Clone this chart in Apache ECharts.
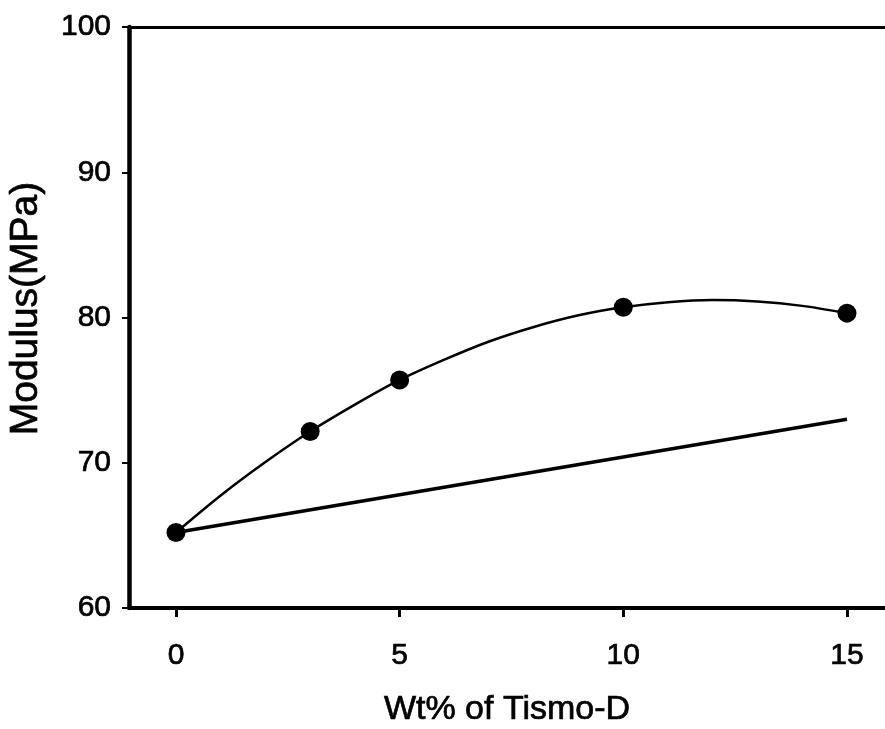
<!DOCTYPE html>
<html>
<head>
<meta charset="utf-8">
<script src="https://cdn.jsdelivr.net/npm/echarts@6/dist/echarts.min.js"></script>
<style>
html,body{margin:0;padding:0;background:#fff;}
#chart{width:885px;height:729px;}
</style>
</head>
<body>
<div id="chart"></div>
<script>
const wtPercent = [0, 3, 5, 10, 15];
const modulus = [65.2, 72.15, 75.7, 80.7, 80.3];
// Fitted curve as drawn in the reference
const fitX = [0, 1, 2, 3, 4, 5, 6, 7, 8, 9, 10, 11, 12, 13, 14, 15];
const fitY = [65.2, 67.75, 70.05, 72.15, 74.0, 75.7, 77.1, 78.35, 79.35, 80.15, 80.7, 81.05, 81.2, 81.1, 80.8, 80.3];
// Straight reference line
const linearX = [0, 15];
const linearY = [65.2, 73.0];
const xTicks = [0, 5, 10, 15];
const yTicks = [60, 70, 80, 90, 100];

const FONT = '"Liberation Sans", Arial, sans-serif';
const chart = echarts.init(document.getElementById('chart'), null, {renderer: 'canvas'});

const measured = wtPercent.map((x, i) => [x, modulus[i]]);
const fit = fitX.map((x, i) => [x, fitY[i]]);
const linear = linearX.map((x, i) => [x, linearY[i]]);
const heavy = {textBorderColor: '#000', textBorderWidth: 0.7};

chart.setOption({
  backgroundColor: '#ffffff',
  animation: false,
  grid: {left: 129, right: 0, top: 27, bottom: 121, containLabel: false, outerBoundsMode: 'none'},
  xAxis: [{
    type: 'value',
    min: -1.05,
    max: 15.85,
    position: 'bottom',
    name: 'Wt% of Tismo-D',
    nameLocation: 'middle',
    nameGap: 85,
    nameTextStyle: Object.assign({color: '#000', fontSize: 34, fontFamily: FONT}, heavy),
    axisLine: {show: true, onZero: false, lineStyle: {color: '#000', width: 4}},
    axisTick: {show: true, inside: false, length: 9, customValues: xTicks, lineStyle: {color: '#000', width: 3}},
    axisLabel: Object.assign({show: true, customValues: xTicks, margin: 33, color: '#000', fontSize: 30, fontFamily: FONT}, heavy),
    splitLine: {show: false}
  }, {
    type: 'value',
    min: -1.05,
    max: 15.85,
    position: 'top',
    axisLine: {show: true, onZero: false, lineStyle: {color: '#000', width: 3}},
    axisTick: {show: false},
    axisLabel: {show: false},
    splitLine: {show: false}
  }],
  yAxis: {
    type: 'value',
    min: 60,
    max: 100,
    interval: 10,
    name: 'Modulus(MPa)',
    nameLocation: 'middle',
    nameGap: 83,
    nameTextStyle: Object.assign({color: '#000', fontSize: 39, fontFamily: FONT, padding: [0, 0, 0, 18]}, heavy),
    axisLine: {show: true, onZero: false, lineStyle: {color: '#000', width: 4.5}},
    axisTick: {show: true, inside: false, length: 7, lineStyle: {color: '#000', width: 2}},
    axisLabel: Object.assign({
      show: true, margin: 18, color: '#000', fontSize: 30, fontFamily: FONT,
      customValues: yTicks
    }, heavy),
    splitLine: {show: false}
  },
  series: [{
    type: 'line',
    data: linear,
    symbol: 'none',
    lineStyle: {color: '#000', width: 3.5},
    z: 2
  }, {
    type: 'line',
    data: fit,
    smooth: 0.3,
    symbol: 'none',
    lineStyle: {color: '#000', width: 2.5},
    z: 3
  }, {
    type: 'scatter',
    data: measured,
    symbol: 'circle',
    symbolSize: 19,
    itemStyle: {color: '#000', opacity: 1},
    z: 4
  }]
});
</script>
</body>
</html>
